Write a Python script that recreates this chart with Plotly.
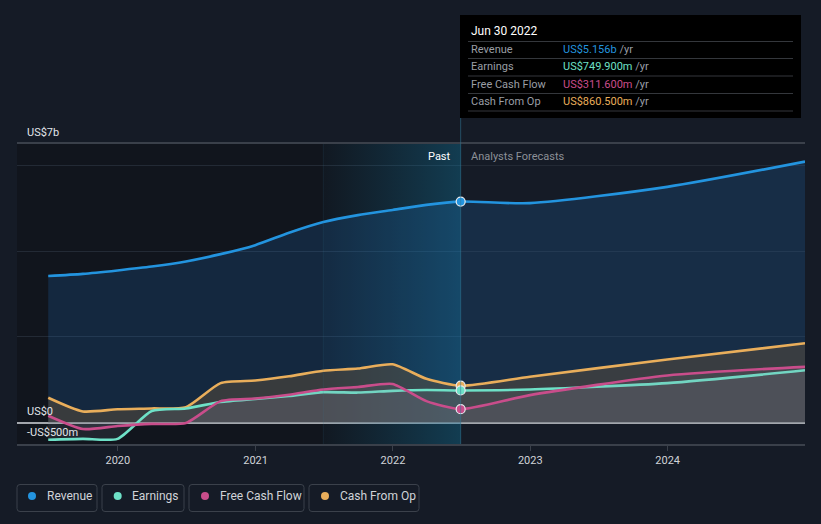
import plotly.graph_objects as go

# ---------------- data ----------------
past_dates = ['2019-06-30', '2019-09-30', '2019-12-31', '2020-03-31', '2020-06-30',
              '2020-09-30', '2020-12-31', '2021-03-31', '2021-06-30', '2021-09-30',
              '2021-12-31', '2022-03-31', '2022-06-30']
forecast_dates = ['2022-12-31', '2023-12-31', '2024-12-31']

# values in US$ billions
revenue_past = [3.42, 3.47, 3.55, 3.64, 3.76, 3.93, 4.14, 4.43, 4.68, 4.84, 4.96, 5.08, 5.156]
revenue_fc = [5.12, 5.50, 6.09]
earnings_past = [-0.40, -0.38, -0.38, 0.27, 0.33, 0.48, 0.55, 0.62, 0.71, 0.70, 0.74, 0.76, 0.7499]
earnings_fc = [0.77, 0.92, 1.22]
fcf_past = [0.16, -0.15, -0.08, -0.03, -0.01, 0.50, 0.56, 0.65, 0.77, 0.83, 0.90, 0.50, 0.3116]
fcf_fc = [0.64, 1.10, 1.30]
cfo_past = [0.58, 0.26, 0.31, 0.33, 0.36, 0.92, 0.98, 1.08, 1.21, 1.26, 1.36, 1.02, 0.8605]
cfo_fc = [1.07, 1.47, 1.85]

x_ticks = ['2020-01-01', '2021-01-01', '2022-01-01', '2023-01-01', '2024-01-01']
x_tick_labels = ['2020', '2021', '2022', '2023', '2024']
y_grid = [0, 2, 4, 6]
x_range = ['2019-04-08', '2024-12-31']
y_range = [-0.5, 6.5]
band_start = '2021-06-30'
tooltip_date = 'Jun 30 2022'

series_names = ['Revenue', 'Earnings', 'Free Cash Flow', 'Cash From Op']
colors = {'Revenue': '#2394df', 'Earnings': '#6ee1c7',
          'Free Cash Flow': '#c94d8b', 'Cash From Op': '#e9ae5b'}

dates = past_dates + forecast_dates
series = {
    'Revenue': revenue_past + revenue_fc,
    'Earnings': earnings_past + earnings_fc,
    'Free Cash Flow': fcf_past + fcf_fc,
    'Cash From Op': cfo_past + cfo_fc,
}
last = len(past_dates) - 1

# ---------------- layout helpers (pixel -> paper) ----------------
W, H = 821, 524
L, R, T, B = 17, 805, 144, 444


def px(p):
    return (p - L) / (R - L)


def py(p):
    return (B - p) / (B - T)


FONT = 'Roboto, "Noto Sans", sans-serif'
BG = '#151b26'

fig = go.Figure()

# highlighted last-year band (gradient)
fig.add_trace(go.Scatter(
    x=[band_start, past_dates[-1], past_dates[-1], band_start, band_start],
    y=[y_range[0], y_range[0], y_range[1], y_range[1], y_range[0]],
    mode='none', fill='toself', hoverinfo='skip', showlegend=False,
    fillgradient=dict(type='horizontal',
                      colorscale=[[0, 'rgba(20,110,150,0.04)'], [1, 'rgba(20,120,160,0.40)']]),
))

# revenue fill + line
fig.add_trace(go.Scatter(
    x=dates, y=series['Revenue'], mode='lines',
    line=dict(color=colors['Revenue'], width=2.6, shape='spline', smoothing=0.7),
    fill='tozeroy', fillcolor='rgba(35,120,200,0.20)', hoverinfo='skip', showlegend=False))

fill_cols = {'Cash From Op': 'rgba(100,82,60,0.45)',
             'Earnings': 'rgba(140,148,165,0.13)',
             'Free Cash Flow': 'rgba(150,140,160,0.13)'}
for name in ['Cash From Op', 'Earnings', 'Free Cash Flow']:
    fig.add_trace(go.Scatter(
        x=dates, y=series[name], mode='lines',
        line=dict(color=colors[name], width=2.6, shape='spline', smoothing=0.6),
        fill='tozeroy', fillcolor=fill_cols[name], hoverinfo='skip', showlegend=False))

# end-of-past markers
for name in ['Revenue', 'Cash From Op', 'Earnings', 'Free Cash Flow']:
    fig.add_trace(go.Scatter(
        x=[past_dates[last]], y=[series[name][last]], mode='markers',
        marker=dict(size=9, color=colors[name], line=dict(color='#e8ecf0', width=1.2)),
        hoverinfo='skip', showlegend=False))

shapes = []
# darker past region
shapes.append(dict(type='rect', xref='x', yref='paper', x0=x_range[0], x1=past_dates[-1],
                   y0=0, y1=1, fillcolor='#11151d', line=dict(width=0), layer='below'))
# divider lines
shapes.append(dict(type='line', xref='x', yref='paper', x0=band_start, x1=band_start,
                   y0=0, y1=1, line=dict(color='rgba(60,120,150,0.14)', width=1)))
shapes.append(dict(type='line', xref='x', yref='paper', x0=past_dates[-1], x1=past_dates[-1],
                   y0=0, y1=py(118), line=dict(color='rgba(50,120,150,0.55)', width=1)))

# tooltip box
shapes.append(dict(type='rect', xref='paper', yref='paper', x0=px(460), x1=px(801),
                   y0=py(118), y1=py(15), fillcolor='#000000', line=dict(width=0)))
for yy in [41.5, 58.5, 76, 93.5, 111]:
    shapes.append(dict(type='line', xref='paper', yref='paper', x0=px(468), x1=px(793),
                       y0=py(yy), y1=py(yy), line=dict(color='#34373c', width=1)))

annotations = []


def ann(text, x, y, size=11, color='#d8dbe0', anchor='left'):
    annotations.append(dict(text=text, xref='paper', yref='paper', x=px(x), y=py(y),
                            xanchor=anchor, yanchor='middle', showarrow=False,
                            font=dict(family=FONT, size=size, color=color)))


ann(tooltip_date, 469, 31, size=12, color='#ffffff')
vals = {
    'Revenue': 'US$%.3fb' % series['Revenue'][last],
    'Earnings': 'US$%.3fm' % (series['Earnings'][last] * 1000),
    'Free Cash Flow': 'US$%.3fm' % (series['Free Cash Flow'][last] * 1000),
    'Cash From Op': 'US$%.3fm' % (series['Cash From Op'][last] * 1000),
}
for i, name in enumerate(series_names):
    yy = [49, 66.5, 84, 101.5][i]
    ann(name, 469, yy, color='#9a9ea5')
    ann("<span style='color:%s'>%s</span> /yr" % (colors[name], vals[name]), 561, yy,
        color='#9a9ea5')

# axis value labels
ann('US$7b', 25, 132, color='#e2e5ea')
ann('US$0', 25, 411, color='#e2e5ea')
ann('-US$500m', 25, 432, color='#e2e5ea')
ann('Past', 453, 156, color='#ffffff', anchor='right')
ann('Analysts Forecasts', 469, 156, color='#8c9097')

# legend boxes
boxes = [(17, 97), (102, 184), (189, 304), (309, 419)]
dots = [32, 117.7, 205, 325]
txts = [44.5, 130, 217.5, 337.5]
by0, by1, r = 484.5, 511.5, 3.0
for i, name in enumerate(series_names):
    x0, x1 = boxes[i]
    rx = r / (R - L)
    ry = r / (B - T)
    X0, X1, Y0, Y1 = px(x0), px(x1), py(by1), py(by0)
    path = (f"M {X0+rx},{Y0} L {X1-rx},{Y0} Q {X1},{Y0} {X1},{Y0+ry} "
            f"L {X1},{Y1-ry} Q {X1},{Y1} {X1-rx},{Y1} L {X0+rx},{Y1} "
            f"Q {X0},{Y1} {X0},{Y1-ry} L {X0},{Y0+ry} Q {X0},{Y0} {X0+rx},{Y0} Z")
    shapes.append(dict(type='path', xref='paper', yref='paper', path=path,
                       line=dict(color='#3b414b', width=1), fillcolor='rgba(0,0,0,0)'))
    d = dots[i]
    shapes.append(dict(type='circle', xref='paper', yref='paper',
                       x0=px(d - 4), x1=px(d + 4), y0=py(500), y1=py(492),
                       fillcolor=colors[name], line=dict(width=0)))
    ann(name, txts[i], 496, size=12, color='#d0d3d8')

fig.update_layout(
    width=W, height=H, autosize=False,
    margin=dict(l=L, r=W - R, t=T, b=H - B, pad=0),
    paper_bgcolor=BG, plot_bgcolor=BG,
    font=dict(family=FONT, color='#c8ccd2', size=11),
    showlegend=False, hovermode=False,
    shapes=shapes, annotations=annotations,
    xaxis=dict(type='date', range=x_range, tickvals=x_ticks, ticktext=x_tick_labels,
               showgrid=False, zeroline=False, showline=True, mirror=True,
               linecolor='#3a404a', linewidth=1.5, ticks='outside', ticklen=5,
               tickcolor='#3a404a', tickfont=dict(size=11, color='#d0d3d8'), fixedrange=True),
    yaxis=dict(range=y_range, tickvals=y_grid, showticklabels=False, showgrid=True,
               gridcolor='#232a35', gridwidth=1, zeroline=True, zerolinecolor='#a3a7ad',
               zerolinewidth=2, showline=False, fixedrange=True),
)

fig.write_html('out.html', config={'displayModeBar': False},
               post_script="document.body.style.margin='0';document.body.style.background='%s';" % BG)
